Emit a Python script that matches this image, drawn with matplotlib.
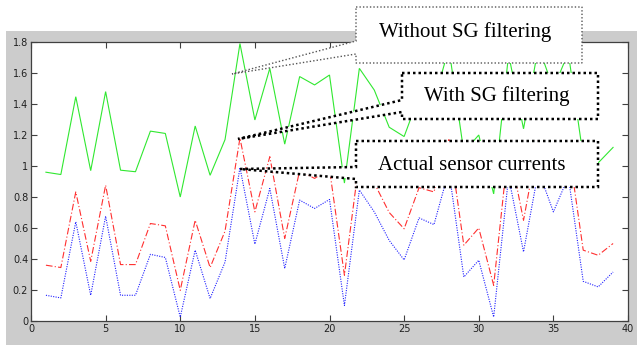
import matplotlib
matplotlib.use("Agg")
import matplotlib.pyplot as plt
from matplotlib.patches import Rectangle, Polygon

# ---- data ----
samples = list(range(1, 40))
without_sg = [0.96, 0.945, 1.447, 0.97, 1.48, 0.973, 0.963, 1.225, 1.21, 0.80,
              1.258, 0.94, 1.17, 1.79, 1.297, 1.63, 1.141, 1.577, 1.523, 1.587,
              0.89, 1.63, 1.49, 1.25, 1.19, 1.45, 1.42, 1.76, 1.09, 1.20,
              0.82, 1.72, 1.24, 1.77, 1.50, 1.73, 1.06, 1.02, 1.12]
with_sg = [0.36, 0.345, 0.833, 0.385, 0.876, 0.364, 0.364, 0.629, 0.614, 0.198,
           0.65, 0.345, 0.58, 1.18, 0.704, 1.06, 0.533, 0.97, 0.92, 0.98,
           0.295, 1.04, 0.89, 0.70, 0.595, 0.86, 0.833, 1.17, 0.489, 0.60,
           0.23, 1.13, 0.65, 1.17, 0.90, 1.13, 0.457, 0.424, 0.50]
actual = [0.166, 0.149, 0.64, 0.166, 0.676, 0.166, 0.166, 0.43, 0.41, 0.025,
          0.457, 0.145, 0.38, 0.99, 0.496, 0.855, 0.339, 0.78, 0.726, 0.784,
          0.10, 0.845, 0.704, 0.52, 0.394, 0.665, 0.622, 0.97, 0.284, 0.392,
          0.026, 0.93, 0.446, 0.97, 0.704, 0.93, 0.256, 0.22, 0.316]
xticks = [0, 5, 10, 15, 20, 25, 30, 35, 40]
yticks = [0, 0.2, 0.4, 0.6, 0.8, 1.0, 1.2, 1.4, 1.6, 1.8]
ytick_labels = ["0", "0.2", "0.4", "0.6", "0.8", "1", "1.2", "1.4", "1.6", "1.8"]
label_without = "Without SG filtering"
label_with = "With SG filtering"
label_actual = "Actual sensor currents"

W, H = 637, 345
fig = plt.figure(figsize=(W / 100, H / 100), dpi=100, facecolor="white")

def fx(px):
    return px / W

def fy(py):
    return 1 - py / H

# grey MATLAB figure background
fig.add_artist(Rectangle((fx(6), 0), fx(W - 6), fy(31), transform=fig.transFigure,
                         facecolor="#cccccc", edgecolor="none", zorder=-5))

ax = fig.add_axes([fx(31), fy(321), fx(628 - 31), fy(42) - fy(321)])
ax.set_facecolor("white")
ax.plot(samples, without_sg, color="#30e830", lw=0.8, solid_joinstyle="miter")
ax.plot(samples, with_sg, color="#ff3030", lw=0.8, dashes=(6, 2, 1, 2))
ax.plot(samples, actual, color="#2020ff", lw=0.8, dashes=(1, 1.2))
ax.set_xlim(0, 40)
ax.set_ylim(0, 1.8)
ax.set_xticks(xticks)
ax.set_xticklabels([str(v) for v in xticks])
ax.set_yticks(yticks)
ax.set_yticklabels(ytick_labels)
ax.tick_params(direction="in", length=4, width=0.8, colors="#404040",
               labelsize=7, labelcolor="#202020", top=True, right=True, pad=2)
for s in ax.spines.values():
    s.set_color("#404040")
    s.set_linewidth(0.9)

# callout boxes (rect + wedge pointer), white filled
def callout(x0, y0, x1, y1, wa, wb, tip, color, lw, dash):
    pts = [(x0, y0), (x1, y0), (x1, y1), (x0, y1), (x0, wb), tip, (x0, wa)]
    poly = Polygon([(fx(a), fy(b)) for a, b in pts], closed=True,
                   transform=fig.transFigure, facecolor="white",
                   edgecolor=color, lw=lw, linestyle=(0, dash), zorder=5)
    fig.add_artist(poly)

callout(356, 7, 582, 63, 41, 54, (232, 74), "#555555", 1.0, (1, 1.5))
callout(402, 73, 598, 119, 100, 112, (238, 139), "black", 1.8, (1, 1.2))
callout(356, 141, 598, 187, 167, 179, (240, 169), "black", 1.8, (1, 1.2))

tkw = dict(family="Liberation Serif", fontsize=15, color="black",
           ha="center", va="center", zorder=6)
fig.text(fx(465), fy(32), label_without, **tkw)
fig.text(fx(497), fy(96), label_with, **tkw)
fig.text(fx(472), fy(165), label_actual, **tkw)

fig.savefig("out.png", dpi=100, facecolor="white")
